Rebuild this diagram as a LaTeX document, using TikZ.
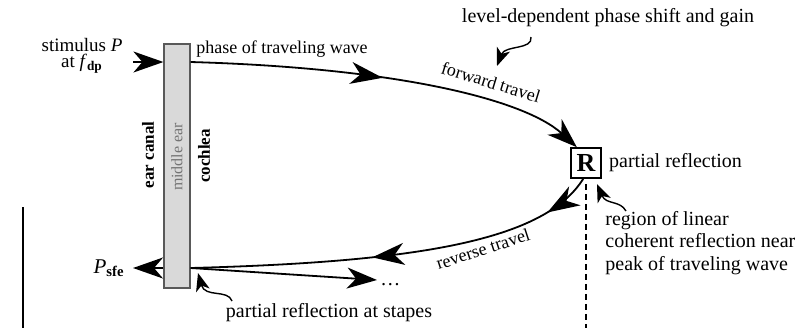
\documentclass[tikz,border=0pt]{standalone}
\usepackage{fontspec}
\setmainfont{Liberation Serif}
\usetikzlibrary{positioning, calc, arrows.meta, decorations.markings}

\tikzset{
  wavehead/.tip={Stealth[length=15pt,width=10.5pt,inset=4.5pt]},
  midhead/.tip={Stealth[length=16pt,width=11pt,inset=4.8pt]},
  wave/.style={line width=0.9pt},
  wavetip/.style={-wavehead},
  midarrow/.style={postaction={decorate, decoration={markings, mark=at position #1 with {\arrow{midhead}}}}},
  curly/.style={line width=0.7pt, -{Stealth[length=9pt,width=7pt,inset=2.5pt]}},
  lbl/.style={font=\fontsize{10}{11.25}\selectfont, inner sep=0pt},
  smalllbl/.style={font=\fontsize{9}{10}\selectfont, inner sep=0pt},
  sidelbl/.style={rotate=90, inner sep=0pt, font=\bfseries\fontsize{8.5}{9}\selectfont},
}

\begin{document}
\begin{tikzpicture}[x=0.5pt, y=-0.5pt]
    \useasboundingbox (0,0) rectangle (804,328);

    % Middle ear bar and side labels
    \node[draw=black!65, fill=black!15, line width=0.6pt, minimum width=13pt, minimum height=122pt, inner sep=0pt] (bar) at (177,166) {};
    \node[rotate=90, inner sep=0pt, text=black!55, font=\fontsize{8}{9}\selectfont] (midear) at (177,157) {middle ear};
    \node[sidelbl] (canal) at (148,155) {ear canal};
    \node[sidelbl] (cochlea) at (204,156) {cochlea};

    % Reflection site
    \node[draw, line width=0.8pt, minimum size=15pt, inner sep=0pt, font=\bfseries\fontsize{13}{13}\selectfont] (rbox) at (586,163) {R};
    \node[lbl, right=3.5pt of rbox] (partial) {partial reflection};
    \node[lbl, align=left, anchor=north west] (region) at (605,211) {region of linear\\coherent reflection near\\peak of traveling wave};
    \coordinate (dashend) at (586,328);
    \draw[line width=0.7pt, dash pattern=on 3pt off 2pt] ([yshift=-2.5pt]rbox.south) -- (dashend);

    % Stimulus in
    \node[inner sep=0pt, align=center, font=\fontsize{9.5}{8}\selectfont] (stim) at (82,56) {stimulus \textit{P}\\at \textit{f}\textsubscript{\textbf{dp}}};
    \coordinate (stimend) at (133,62);
    \draw[wave, wavetip] (stimend) -- (stimend -| bar.west);

    % Forward travel
    \node[smalllbl] (phase) at (282,49) {phase of traveling wave};
    \draw[wave, wavetip, midarrow=0.48] (stimend -| bar.east) .. controls (400,68) and (525,100) .. (rbox.120);
    \node[smalllbl, rotate=-17] (fwdlbl) at (491,82) {forward travel};
    \node[lbl] (level) at (608,18) {level-dependent phase shift and gain};

    % Reverse travel
    \coordinate (sfeend) at (133,268);
    \draw[wave, midarrow=0.12, midarrow=0.56] (rbox.-100) .. controls (545,240) and (420,262) .. (sfeend -| bar.east);
    \node[smalllbl, rotate=18] (revlbl) at (483,249) {reverse travel};
    \draw[wave, wavetip] (sfeend -| bar.west) -- (sfeend);
    \node[lbl, left=4pt of sfeend, font=\fontsize{10.5}{11}\selectfont] (psfe) {\textit{P}\textsubscript{\textbf{sfe}}};

    % Reflected again at stapes
    \coordinate (onward) at (377,280);
    \draw[wave, wavetip] (sfeend -| bar.east) -- (onward);
    \node[lbl, anchor=base west] (dots) at (380,285) {\dots};
    \node[lbl] (stapes) at (329,313) {partial reflection at stapes};

    % Pointer arrows
    \coordinate (leveltail) at (531,37);
    \coordinate (leveltip) at (497,66);
    \draw[curly] (leveltail) .. controls (533,50) and (505,45) .. (leveltip);
    \coordinate (regiontail) at (626,211);
    \coordinate (regiontip) at (597,184);
    \draw[curly] (regiontail) .. controls (620,200) and (606,205) .. (regiontip);
    \coordinate (stapestail) at (232,301);
    \coordinate (stapestip) at (198,273);
    \draw[curly] (stapestail) .. controls (228,289) and (205,298) .. (stapestip);

    % Margin bar
    \draw[line width=1pt] (23,207) -- (23,328);
\end{tikzpicture}
\end{document}
